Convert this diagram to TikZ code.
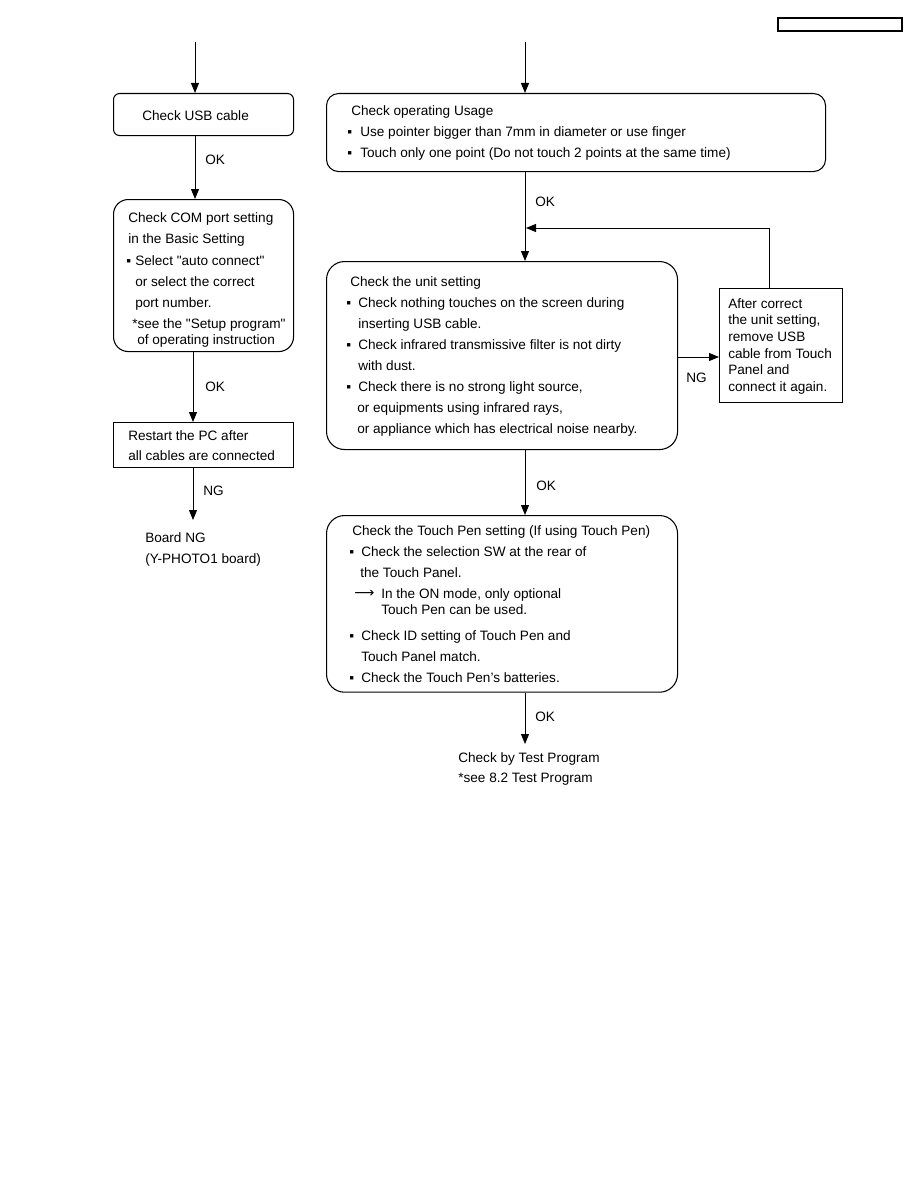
\documentclass[tikz,border=0pt]{standalone}
\usepackage{fontspec}
\setmainfont{Liberation Sans}
\newfontfamily\plainsans{Liberation Sans}
\newfontfamily\arrowfont{DejaVu Sans}
\usetikzlibrary{arrows.meta}
\newcommand\tline[4]{\node[tx] (#1) at (#2,#3) {#4};}
\begin{document}
\begin{tikzpicture}[x=0.75pt,y=-0.75pt,
  tx/.style={anchor=base west, inner sep=0pt, font=\plainsans\fontsize{10.2pt}{12pt}\selectfont},
  box/.style={draw, line width=0.8pt, anchor=north west, inner sep=0pt},
  arr/.style={line width=0.75pt, -{Triangle[length=7.5pt,width=6pt]}},
  ln/.style={line width=0.75pt}]
\useasboundingbox (0,0) rectangle (918,1188);
% header box
\node[box, line width=1.3pt, minimum width=93pt, minimum height=9.75pt] (hdr) at (777,17) {};
% boxes
\node[box, rounded corners=4.5pt, minimum width=135pt, minimum height=31.5pt] (usb) at (113,93) {};
\node[box, rounded corners=11pt, minimum width=135pt, minimum height=114pt] (com) at (113,199) {};
\node[box, minimum width=135pt, minimum height=34pt] (rst) at (113,422) {};
\node[box, rounded corners=9pt, minimum width=374.25pt, minimum height=58.5pt] (use) at (326,93) {};
\node[box, rounded corners=13.5pt, minimum width=263.25pt, minimum height=141pt] (unit) at (326,261) {};
\node[box, minimum width=92.25pt, minimum height=85.5pt] (after) at (719,288) {};
\node[box, rounded corners=13.5pt, minimum width=263.25pt, minimum height=132.5pt] (pen) at (326,515) {};
% left texts
\tline{t1}{142}{120}{Check USB cable}
\tline{ok1}{205}{164}{OK}
\tline{c1}{128}{222}{Check COM port setting}
\tline{c2}{128}{243}{in the Basic Setting}
\tline{c3b}{126}{265}{▪}
\tline{c3}{135}{265}{Select "auto connect"}
\tline{c4}{135}{286}{or select the correct}
\tline{c5}{135}{307}{port number.}
\tline{c6}{132}{328}{*see the "Setup program"}
\tline{c7}{137}{344}{of operating instruction}
\tline{ok2}{205}{391}{OK}
\tline{r1}{128}{440}{Restart the PC after}
\tline{r2}{128}{460}{all cables are connected}
\tline{ng1}{203}{495}{NG}
\tline{b1}{145}{542}{Board NG}
\tline{b2}{145}{563}{(Y-PHOTO1 board)}
% right texts
\tline{u0}{351}{115}{Check operating Usage}
\tline{u1b}{347}{136}{▪}
\tline{u1}{360}{136}{Use pointer bigger than 7mm in diameter or use finger}
\tline{u2b}{347}{157}{▪}
\tline{u2}{360}{157}{Touch only one point (Do not touch 2 points at the same time)}
\tline{ok3}{535}{206}{OK}
\tline{s0}{350}{286}{Check the unit setting}
\tline{s1b}{346}{307}{▪}
\tline{s1}{358}{307}{Check nothing touches on the screen during}
\tline{s2}{358}{328}{inserting USB cable.}
\tline{s3b}{346}{349}{▪}
\tline{s3}{358}{349}{Check infrared transmissive filter is not dirty}
\tline{s4}{358}{370}{with dust.}
\tline{s5b}{346}{391}{▪}
\tline{s5}{358}{391}{Check there is no strong light source,}
\tline{s6}{357}{412}{or equipments using infrared rays,}
\tline{s7}{357}{433}{or appliance which has electrical noise nearby.}
\tline{ng2}{686}{382}{NG}
\tline{a1}{728}{308}{After correct}
\tline{a2}{728}{324}{the unit setting,}
\tline{a3}{728}{341}{remove USB}
\tline{a4}{728}{358}{cable from Touch}
\tline{a5}{728}{374}{Panel and}
\tline{a6}{728}{391}{connect it again.}
\tline{ok4}{536}{490}{OK}
\tline{p0}{352}{535}{Check the Touch Pen setting (If using Touch Pen)}
\tline{p1b}{349}{556}{▪}
\tline{p1}{361}{556}{Check the selection SW at the rear of}
\tline{p2}{360}{577}{the Touch Panel.}
\node[anchor=base west, inner sep=0pt, font=\arrowfont\fontsize{10.5pt}{12pt}\selectfont] (p3a) at (354,597) {⟶};
\tline{p3}{381}{598}{In the ON mode, only optional}
\tline{p4}{381}{614}{Touch Pen can be used.}
\tline{p5b}{349}{640}{▪}
\tline{p5}{361}{640}{Check ID setting of Touch Pen and}
\tline{p6}{361}{661}{Touch Panel match.}
\tline{p7b}{349}{682}{▪}
\tline{p7}{361}{682}{Check the Touch Pen’s batteries.}
\tline{ok5}{535}{721}{OK}
\tline{e1}{458}{762}{Check by Test Program}
\tline{e2}{458}{782}{*see 8.2 Test Program}
% coordinates
\coordinate (inL) at (195,42);
\coordinate (colL) at (193,0);
\coordinate (inR) at (525,42);
\coordinate (fb) at (769,228);
\coordinate (ngy) at (0,357);
\coordinate (endL) at (193,520);
\coordinate (endR) at (525,744);
% connectors
\draw[arr] (inL) -- (inL |- usb.north);
\draw[arr] (usb.south -| inL) -- (com.north -| inL);
\draw[arr] (com.south -| colL) -- (rst.north -| colL);
\draw[arr] (rst.south -| colL) -- (endL);
\draw[arr] (inR) -- (inR |- use.north);
\draw[arr] (use.south -| inR) -- (unit.north -| inR);
\draw[arr] (after.north -| fb) -- (fb) -- ([xshift=0.75pt]fb -| inR);
\draw[arr] (unit.east |- ngy) -- (after.west |- ngy);
\draw[arr] (unit.south -| inR) -- (pen.north -| inR);
\draw[arr] (pen.south -| inR) -- (endR);
\end{tikzpicture}
\end{document}
